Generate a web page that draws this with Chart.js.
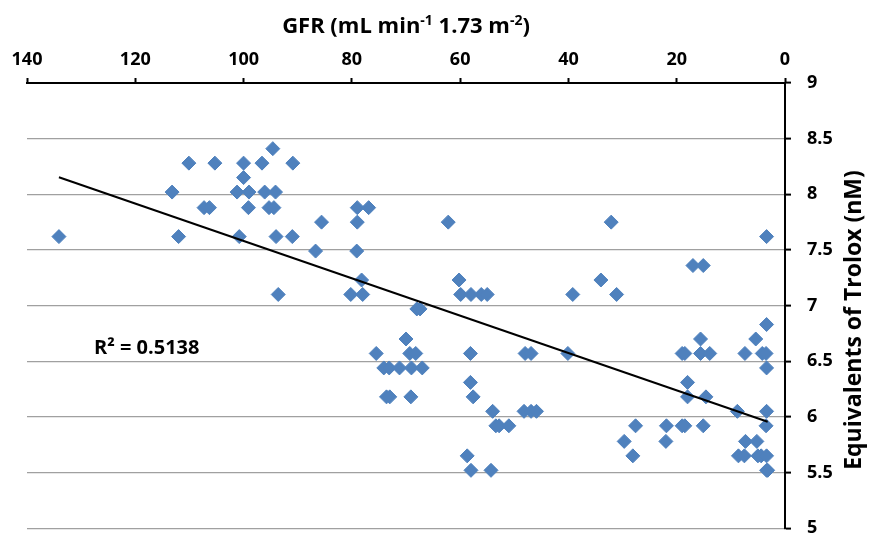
<!DOCTYPE html>
<html><head><meta charset="utf-8">
<script src="https://cdn.jsdelivr.net/npm/chart.js@4"></script>
<style>html,body{margin:0;padding:0;background:#fff}</style>
</head><body>
<canvas id="c" width="875" height="555"></canvas>
<script>
// GFR (x) and Trolox equivalents (y)
const gfr = [
  94.6,
  110.1, 105.3, 100.0, 96.6, 90.9,
  100.0,
  113.2, 101.2, 99.0, 96.1, 94.1,
  107.3, 106.3, 99.1, 95.3, 94.4, 79.0, 76.9,
  85.6, 79.0, 62.2, 32.1,
  134.1, 112.0, 100.8, 94.0, 91.0, 3.4,
  86.7, 79.1,
  17.0, 15.1,
  78.2, 60.2, 34.0,
  93.6, 80.2, 78.0, 59.9, 58.0, 56.1, 55.0, 39.2, 31.1,
  68.0, 67.4,
  3.4,
  70.0, 15.6, 5.4,
  75.5, 69.3, 68.2, 58.1, 48.0, 46.9, 40.1, 19.0, 18.5, 15.6, 13.9, 7.4, 4.2, 3.5,
  74.1, 73.1, 71.2, 69.0, 67.0, 3.4,
  58.1, 18.0,
  73.6, 73.0, 69.1, 57.6, 18.0, 14.6,
  54.0, 48.2, 46.9, 45.9, 8.8, 3.4,
  53.4, 52.8, 51.0, 27.6, 21.9, 19.0, 18.5, 15.1, 3.5,
  29.7, 22.0, 7.3, 5.2,
  58.7, 28.1, 8.6, 7.5, 5.0, 4.4, 3.4,
  58.0, 54.3, 3.4, 3.2
];
const trolox = [
  8.41,
  8.28, 8.28, 8.28, 8.28, 8.28,
  8.15,
  8.02, 8.02, 8.02, 8.02, 8.02,
  7.88, 7.88, 7.88, 7.88, 7.88, 7.88, 7.88,
  7.75, 7.75, 7.75, 7.75,
  7.62, 7.62, 7.62, 7.62, 7.62, 7.62,
  7.49, 7.49,
  7.36, 7.36,
  7.23, 7.23, 7.23,
  7.10, 7.10, 7.10, 7.10, 7.10, 7.10, 7.10, 7.10, 7.10,
  6.97, 6.97,
  6.83,
  6.70, 6.70, 6.70,
  6.57, 6.57, 6.57, 6.57, 6.57, 6.57, 6.57, 6.57, 6.57, 6.57, 6.57, 6.57, 6.57, 6.57,
  6.44, 6.44, 6.44, 6.44, 6.44, 6.44,
  6.31, 6.31,
  6.18, 6.18, 6.18, 6.18, 6.18, 6.18,
  6.05, 6.05, 6.05, 6.05, 6.05, 6.05,
  5.92, 5.92, 5.92, 5.92, 5.92, 5.92, 5.92, 5.92, 5.92,
  5.78, 5.78, 5.78, 5.78,
  5.65, 5.65, 5.65, 5.65, 5.65, 5.65, 5.65,
  5.52, 5.52, 5.52, 5.52
];
const xRange = [0, 140];
const yRange = [5, 9];
const xStep = 20;
const yStep = 0.5;
const r2Label = 'R\u00B2 = 0.5138';
const xTitleParts = [['GFR (mL min', false], ['-1', true], [' 1.73 m', false], ['-2', true], [')', false]];
const yTitle = 'Equivalents of Trolox (nM)';

const points = gfr.map((g, i) => ({x: g, y: trolox[i]}));

// least-squares trendline computed from the data
const n = gfr.length;
const mx = gfr.reduce((a, b) => a + b, 0) / n;
const my = trolox.reduce((a, b) => a + b, 0) / n;
let sxy = 0, sxx = 0;
for (let i = 0; i < n; i++) { sxy += (gfr[i] - mx) * (trolox[i] - my); sxx += (gfr[i] - mx) ** 2; }
const slope = sxy / sxx, icpt = my - slope * mx;
const xMin = Math.min(...gfr), xMax = Math.max(...gfr);
const trend = [{x: xMin, y: icpt + slope * xMin}, {x: xMax, y: icpt + slope * xMax}];

const FONT = '"Open Sans", "Liberation Sans", sans-serif';

const textPlugin = {
  id: 'texts',
  afterDraw(chart) {
    const ctx = chart.ctx;
    const ca = chart.chartArea;
    ctx.save();
    ctx.fillStyle = '#000';
    // x title with superscripts
    const big = 'bold 22px ' + FONT, small = 'bold 14px ' + FONT;
    let total = 0;
    xTitleParts.forEach(([t, s]) => { ctx.font = s ? small : big; total += ctx.measureText(t).width; });
    let x = (ca.left + ca.right) / 2 - total / 2;
    const base = 33;
    ctx.textBaseline = 'alphabetic';
    ctx.textAlign = 'left';
    xTitleParts.forEach(([t, s]) => {
      ctx.font = s ? small : big;
      ctx.fillText(t, x, s ? base - 8 : base);
      x += ctx.measureText(t).width;
    });
    // y title rotated
    ctx.save();
    ctx.translate(854, 320);
    ctx.rotate(-Math.PI / 2);
    ctx.font = 'bold 23px ' + FONT;
    ctx.textAlign = 'center';
    ctx.textBaseline = 'middle';
    ctx.fillText(yTitle, 0, 0);
    ctx.restore();
    // R^2 label
    ctx.font = 'bold 20px ' + FONT;
    ctx.textAlign = 'left';
    ctx.textBaseline = 'alphabetic';
    ctx.fillText(r2Label, 94, 354);
    ctx.restore();
  }
};

new Chart(document.getElementById('c'), {
  type: 'scatter',
  data: {
    datasets: [
      {
        type: 'line', data: trend, borderColor: '#000', borderWidth: 2,
        pointRadius: 0, fill: false, tension: 0
      },
      {
        data: points, pointStyle: 'rectRot', pointRadius: 7,
        backgroundColor: '#4F81BD', borderColor: '#4F81BD', borderWidth: 1
      }
    ]
  },
  options: {
    responsive: false,
    animation: false,
    layout: {padding: {left: 27, right: 0, top: 0, bottom: 8}},
    plugins: {legend: {display: false}, tooltip: {enabled: false}},
    scales: {
      x: {
        type: 'linear', position: 'top', reverse: true,
        min: xRange[0], max: xRange[1],
        afterFit(s) { s.height = 83; },
        ticks: {stepSize: xStep, color: '#000', font: {family: FONT, size: 18, weight: 'bold'}, padding: 7, maxRotation: 0},
        grid: {drawOnChartArea: false, drawTicks: true, tickLength: 5, tickColor: '#000', tickWidth: 2},
        border: {display: true, color: '#000', width: 2}
      },
      y: {
        type: 'linear', position: 'right',
        min: yRange[0], max: yRange[1],
        afterFit(s) { s.width = 90; },
        ticks: {stepSize: yStep, color: '#000', font: {family: FONT, size: 18, weight: 'bold'}, padding: 16,
                callback: v => String(Math.round(v * 10) / 10)},
        grid: {drawOnChartArea: true, color: '#a0a0a0', lineWidth: 1.2, drawTicks: true, tickLength: 6, tickColor: '#000', tickWidth: 2},
        border: {display: true, color: '#000', width: 2}
      }
    }
  },
  plugins: [textPlugin]
});
</script>
</body></html>
